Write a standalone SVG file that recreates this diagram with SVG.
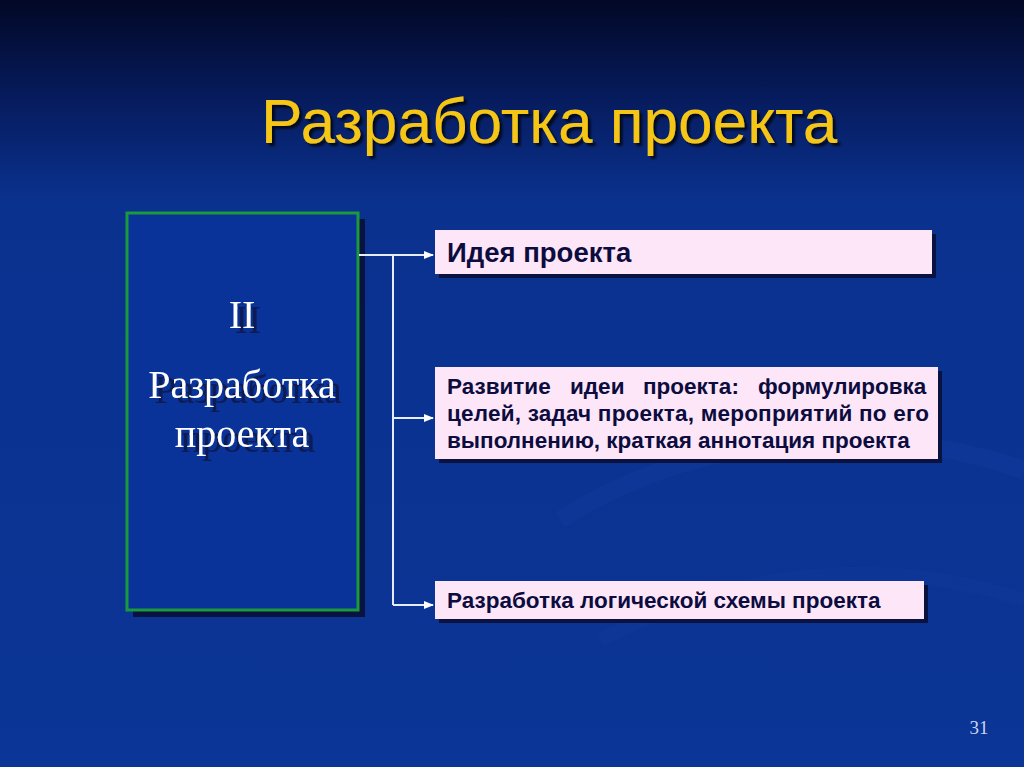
<svg xmlns="http://www.w3.org/2000/svg" width="1024" height="767" viewBox="0 0 1024 767">
<defs>
<linearGradient id="bg" x1="0" y1="0" x2="0" y2="1">
<stop offset="0" stop-color="#020826"/>
<stop offset="0.12" stop-color="#061a5a"/>
<stop offset="0.26" stop-color="#0a318e"/>
<stop offset="1" stop-color="#0b3596"/>
</linearGradient>
<filter id="tsh" x="-10%" y="-20%" width="130%" height="150%">
<feDropShadow dx="6" dy="5" stdDeviation="0.6" flood-color="#0a1a55" flood-opacity="1"/>
</filter>
<filter id="ttl" x="-5%" y="-20%" width="115%" height="150%">
<feDropShadow dx="3" dy="3" stdDeviation="1" flood-color="#000000" flood-opacity="0.7"/>
</filter>
<marker id="arr" markerWidth="10" markerHeight="8" refX="9" refY="4" orient="auto" markerUnits="userSpaceOnUse">
<path d="M0,0 L10,4 L0,8 Z" fill="#ffffff"/>
</marker>
<style>
.box{fill:#fde6f8;}
.shadow{fill:#0a1240;}
.bt{font-family:"Liberation Sans",Arial,sans-serif;font-weight:bold;fill:#0c0c3e;}
.conn{stroke:#e6ecff;stroke-width:2;fill:none;}
.serif{font-family:"Liberation Serif","Times New Roman",serif;}
</style>
</defs>
<rect width="1024" height="767" fill="url(#bg)"/>
<path d="M560,520 C700,430 880,420 1024,470" stroke="#1a45a8" stroke-width="18" fill="none" opacity="0.2"/>
<path d="M600,640 C760,560 900,560 1024,600" stroke="#1a45a8" stroke-width="14" fill="none" opacity="0.18"/>

<g id="title">
<text x="261" y="143" font-family="'Liberation Sans',Arial,sans-serif" font-size="62.2" fill="#f6c619" filter="url(#ttl)">Разработка проекта</text>
</g>

<g id="stage">
<rect x="133" y="219" width="232" height="398" class="shadow"/>
<rect x="127" y="213" width="231" height="397" fill="#0a3399" stroke="#1a9a3c" stroke-width="3"/>
<g class="serif" font-size="40" text-anchor="middle" fill="#ffffff" filter="url(#tsh)">
<text x="242" y="328">II</text>
<text x="242" y="398">Разработка</text>
<text x="242" y="447">проекта</text>
</g>
</g>

<g id="connectors">
<line x1="359" y1="255" x2="433" y2="255" class="conn" marker-end="url(#arr)"/>
<line x1="393" y1="255" x2="393" y2="605" class="conn"/>
<line x1="393" y1="418" x2="433" y2="418" class="conn" marker-end="url(#arr)"/>
<line x1="393" y1="605" x2="433" y2="605" class="conn" marker-end="url(#arr)"/>
</g>

<g id="node1">
<rect x="439" y="234" width="497" height="44" class="shadow"/>
<rect x="435" y="230" width="497" height="44" class="box"/>
<text x="447" y="262" class="bt" font-size="27.5">Идея проекта</text>
</g>

<g id="node2">
<rect x="439" y="371" width="503" height="92" class="shadow"/>
<rect x="435" y="367" width="503" height="92" class="box"/>
<text class="bt" font-size="22.5" y="394"><tspan x="447">Развитие</tspan><tspan x="570">идеи</tspan><tspan x="643">проекта:</tspan><tspan x="758">формулировка</tspan></text>
<text class="bt" font-size="22.5" x="447" y="421" textLength="482" lengthAdjust="spacing">целей, задач проекта, мероприятий по его</text>
<text class="bt" font-size="22.5" x="447" y="448">выполнению, краткая аннотация проекта</text>
</g>

<g id="node3">
<rect x="439" y="585" width="489" height="38" class="shadow"/>
<rect x="435" y="581" width="489" height="38" class="box"/>
<text x="447" y="608" class="bt" font-size="22.5">Разработка логической схемы проекта</text>
</g>

<text x="979" y="734" class="serif" font-size="19" fill="#c8d4f4" text-anchor="middle">31</text>
</svg>
